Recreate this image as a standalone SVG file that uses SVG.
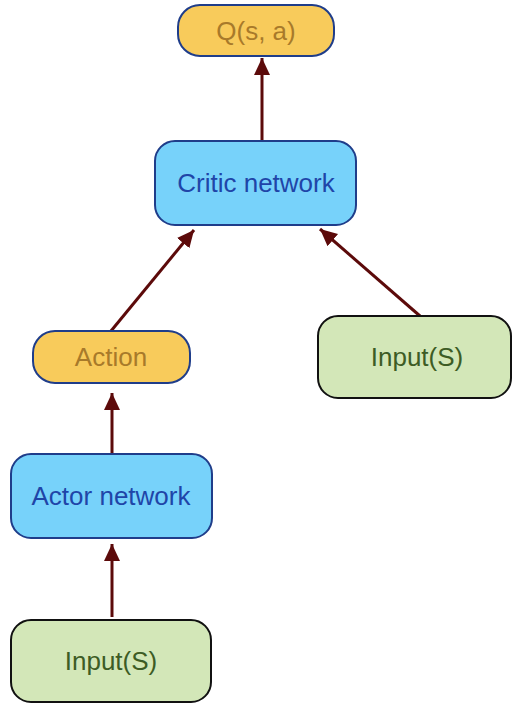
<svg xmlns="http://www.w3.org/2000/svg" width="512" height="703" viewBox="0 0 512 703">
<style>
.y{fill:#f8cb5b;stroke:#1f3d8a;stroke-width:2}
.b{fill:#77d2fa;stroke:#1f3d8a;stroke-width:2}
.g{fill:#d3e7b8;stroke:#111;stroke-width:2}
text{font-family:"Liberation Sans",Arial,sans-serif;font-size:26px;text-anchor:middle;dominant-baseline:central}
.ty{fill:#a87a2a}
.tb{fill:#1f45a8}
.tg{fill:#3d5c25}
.e{stroke:#5c0a0a;stroke-width:3;fill:none;marker-end:url(#ah)}
</style>
<defs>
<marker id="ah" markerUnits="userSpaceOnUse" markerWidth="18" markerHeight="18" viewBox="0 0 18 18" refX="17" refY="9" orient="auto">
<path d="M0,1 L17,9 L0,17 Z" fill="#5c0a0a"/>
</marker>
</defs>
<g id="connectors">
<line class="e" x1="262" y1="141" x2="262" y2="58"/>
<line class="e" x1="111" y1="331" x2="194" y2="230"/>
<line class="e" x1="420" y1="316" x2="320" y2="229"/>
<line class="e" x1="112" y1="454" x2="112" y2="393"/>
<line class="e" x1="112" y1="617" x2="112" y2="544"/>
</g>
<g id="q">
<rect class="y" x="178" y="5" width="156" height="51" rx="22"/>
<text class="ty" x="256" y="31">Q(s, a)</text>
</g>
<g id="critic">
<rect class="b" x="155" y="141" width="201" height="84" rx="20"/>
<text class="tb" x="256" y="183">Critic network</text>
</g>
<g id="action">
<rect class="y" x="33" y="331" width="157" height="52" rx="22"/>
<text class="ty" x="111" y="357">Action</text>
</g>
<g id="input-right">
<rect class="g" x="318" y="316" width="193" height="82" rx="20"/>
<text class="tg" x="417" y="357">Input(S)</text>
</g>
<g id="actor">
<rect class="b" x="11" y="454" width="201" height="84" rx="20"/>
<text class="tb" x="111" y="496">Actor network</text>
</g>
<g id="input-bottom">
<rect class="g" x="11" y="620" width="200" height="82" rx="20"/>
<text class="tg" x="111" y="661">Input(S)</text>
</g>
</svg>
